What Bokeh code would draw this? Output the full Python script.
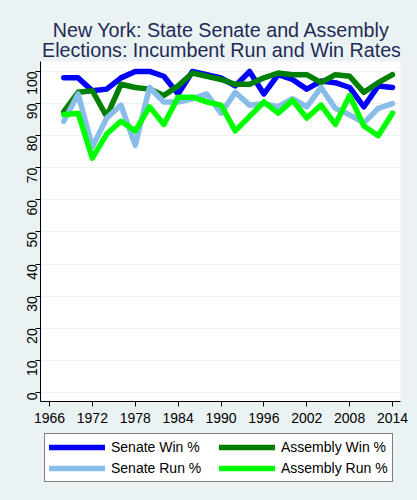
import math

from bokeh.core.properties import value
from bokeh.embed import file_html
from bokeh.layouts import column
from bokeh.models import (GlobalInlineStyleSheet, Legend, LegendItem, Range1d,
                          FixedTicker)
from bokeh.plotting import figure
from bokeh.resources import INLINE

# ---------- data ----------
years = list(range(1968, 2015, 2))

senate_win = [98, 98, 94, 94.5, 98, 100, 100, 98.5, 93, 100, 99, 98,
              95.5, 100, 93, 99, 97.5, 94.5, 97, 96.5, 95, 89, 95.5, 95]
assembly_win = [87.5, 93.5, 94, 86, 96, 95, 94.5, 92.5, 95.5, 99.5, 98.5, 97.5,
                96, 96, 98, 99.5, 99, 99, 96.5, 99, 98.5, 93.5, 96.5, 99]
senate_run = [84.5, 93, 76.5, 85.5, 89.5, 77, 95, 90.5, 90.5, 91.5, 93, 87,
              93.5, 89.5, 90, 89, 91.5, 89, 95, 88.5, 86.5, 84, 88.5, 90]
assembly_run = [86.5, 87, 73, 80.5, 84.5, 81.5, 89, 83.5, 92, 92, 90.5, 89.5,
                81.5, 86, 90.5, 87, 91, 85.5, 89.5, 83.5, 92.5, 83, 80, 87]

series = [
    ("Senate Win %", senate_win, "#0000FF"),
    ("Assembly Win %", assembly_win, "#008000"),
    ("Senate Run %", senate_run, "#87BDE8"),
    ("Assembly Run %", assembly_run, "#00FF00"),
]

title_lines = ["New York: State Senate and Assembly",
               "Elections: Incumbent Run and Win Rates"]

x_ticks = list(range(1966, 2015, 6))
y_ticks = list(range(0, 101, 10))

BG = "#EAF2F3"
FONT = "Liberation Sans"


def strip(height, x_range, y_range):
    # same side borders as the chart, so the frames line up in the column
    f = figure(
        title=None,
        frame_width=360, frame_height=height,
        x_range=x_range, y_range=y_range,
        output_backend="svg", toolbar_location=None,
        x_axis_location=None, y_axis_location=None,
        min_border_left=40, min_border_right=17,
        min_border_top=0, min_border_bottom=0,
        background_fill_color=BG, border_fill_color=BG,
        outline_line_color=None,
    )
    f.grid.visible = False
    return f


# ---------- title strip (x in page pixels, y from top) ----------
pt = strip(57, Range1d(40, 400), Range1d(57, 0))
pt.stylesheets = [GlobalInlineStyleSheet(css=f"body {{ background: {BG}; }}")]
pt.text(x=[221, 221], y=[29, 49], text=title_lines,
        text_align="center", text_baseline="alphabetic",
        text_font=value(FONT), text_font_size="19.7px", text_color="#1F2A55")

# ---------- main chart ----------
p = figure(
    frame_width=360,
    frame_height=340,
    x_range=Range1d(1964.74, 2015.12),
    y_range=Range1d(-2.8, 103.1),
    output_backend="svg",
    toolbar_location=None,
    min_border_left=40,
    min_border_right=17,
    min_border_top=4,
    min_border_bottom=32,
    background_fill_color="white",
    border_fill_color=BG,
    outline_line_color=None,
)

p.xaxis.ticker = FixedTicker(ticks=x_ticks)
p.yaxis.ticker = FixedTicker(ticks=y_ticks)
for ax in (p.xaxis, p.yaxis):
    ax.axis_line_color = "black"
    ax.major_tick_line_color = "black"
    ax.major_tick_out = 5
    ax.major_tick_in = 0
    ax.minor_tick_line_color = None
    ax.major_label_text_font = FONT
    ax.major_label_text_font_size = "14px"
    ax.major_label_text_color = "black"
p.xaxis.major_label_standoff = 6
p.yaxis.major_label_standoff = 3
p.yaxis.major_label_orientation = math.pi / 2

p.xgrid.grid_line_color = None
p.ygrid.grid_line_color = BG
p.ygrid.grid_line_width = 1

for label, vals, color in series:
    p.line(years, vals, line_color=color, line_width=5.5,
           line_cap="round", line_join="round")

# ---------- legend strip ----------
leg = strip(67, Range1d(0, 1), Range1d(0, 1))

# same series, out of this strip's view: only their legend samples show
items = {}
for label, vals, color in series:
    r = leg.line(years, vals, line_color=color, line_width=5.5,
                 line_cap="round", line_join="round")
    items[label] = LegendItem(label=label, renderers=[r])

legend = Legend(
    items=[items["Senate Win %"], items["Senate Run %"],
           items["Assembly Win %"], items["Assembly Run %"]],
    orientation="vertical",
    nrows=2,
    location=(4, 18),
    label_text_font=FONT,
    label_text_font_size="14px",
    label_text_color="black",
    glyph_width=56,
    glyph_height=18,
    label_height=18,
    label_width=105,
    label_standoff=6,
    spacing=3,
    padding=4,
    margin=0,
    border_line_color="black",
    border_line_width=1,
    background_fill_color="white",
    background_fill_alpha=1,
)
leg.add_layout(legend)

layout = column(pt, p, leg, spacing=0)

open("out.html", "w").write(file_html(layout, INLINE))
